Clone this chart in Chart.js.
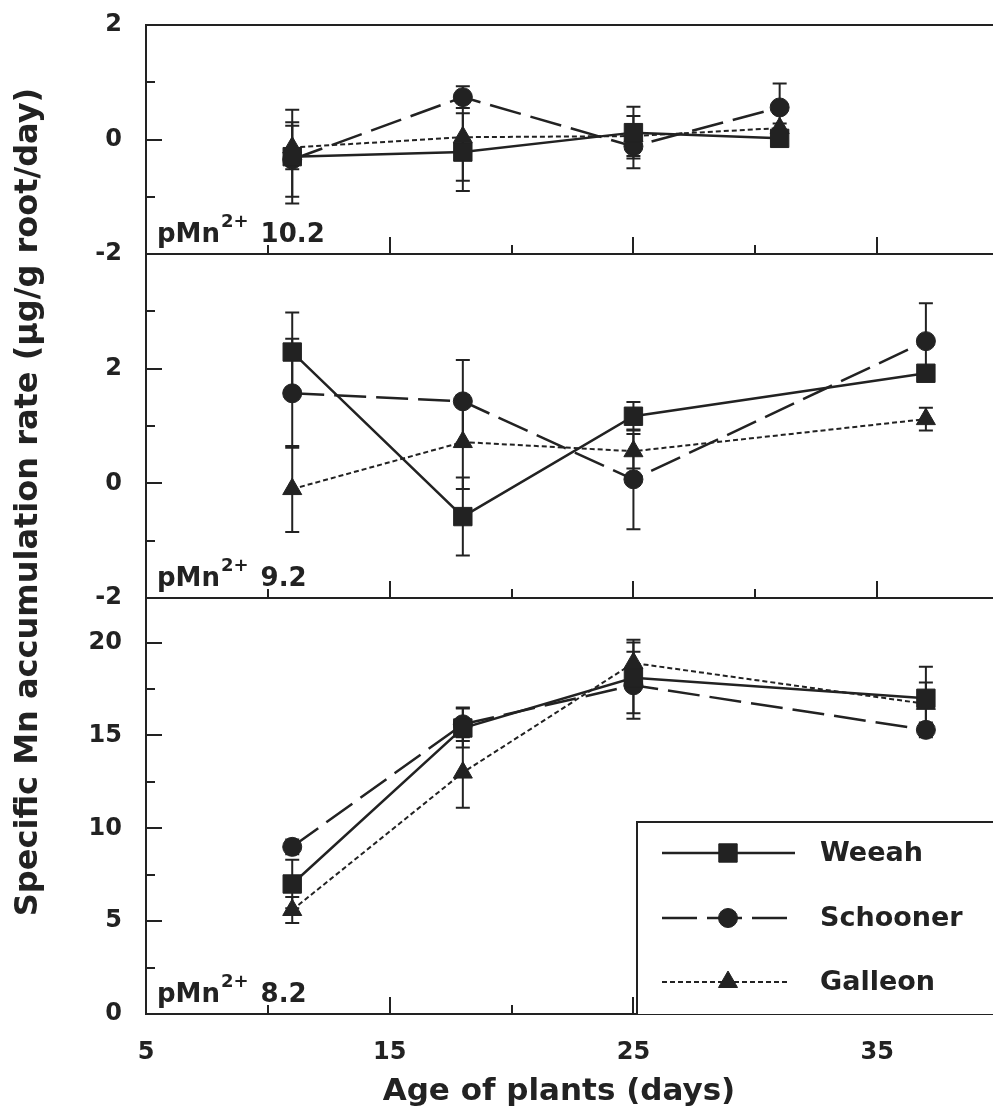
<!DOCTYPE html>
<html>
<head>
<meta charset="utf-8">
<script src="https://cdn.jsdelivr.net/npm/chart.js@4.4.1/dist/chart.umd.min.js"></script>
<style>
  html, body { margin: 0; padding: 0; background: #fff; }
  #wrap { position: relative; width: 993px; height: 1117px; overflow: hidden; }
  canvas { position: absolute; left: 0; }
  .title { position: absolute; font-family: 'DejaVu Sans', sans-serif; font-weight: bold; color: #222; white-space: nowrap; text-align: center; }
  #ytitle { font-size: 32px; line-height: 32px; width: 830px; height: 32px; left: -389px; top: 486px; transform: rotate(-90deg); }
  #xtitle { font-size: 31px; line-height: 31px; left: 0; width: 1118px; top: 1074px; }
</style>
</head>
<body>
<div id="wrap">
  <canvas id="panel1" width="1000" height="264" style="top:0px"></canvas>
  <canvas id="panel2" width="1000" height="364" style="top:244px"></canvas>
  <canvas id="panel3" width="1000" height="529" style="top:588px"></canvas>
  <div class="title" id="ytitle">Specific Mn accumulation rate (µg/g root/day)</div>
  <div class="title" id="xtitle">Age of plants (days)</div>
</div>

<script>
// ---- DATA ----
const xLabels = [5, 15, 25, 35];
const legendNames = ['Weeah', 'Schooner', 'Galleon'];

// pMn2+ 10.2
const days102 = [11, 18, 25, 31];
const weeah102 = [-0.30, -0.22, 0.12, 0.02];
const schooner102 = [-0.35, 0.74, -0.12, 0.56];
const galleon102 = [-0.14, 0.04, 0.06, 0.20];
const weeahErr102 = [0.82, 0.68, 0.45, 0.08];
const schoonerErr102 = [0.65, 0.19, 0.38, 0.42];
const galleonErr102 = [0.38, 0.76, 0.35, 0.08];

// pMn2+ 9.2
const days92 = [11, 18, 25, 37];
const weeah92 = [2.29, -0.58, 1.17, 1.92];
const schooner92 = [1.57, 1.43, 0.07, 2.48];
const galleon92 = [-0.10, 0.72, 0.56, 1.12];
const weeahErr92 = [0.69, 0.68, 0.25, 0.12];
const schoonerErr92 = [0.95, 0.72, 0.87, 0.66];
const galleonErr92 = [0.75, 0.82, 0.30, 0.20];

// pMn2+ 8.2
const days82 = [11, 18, 25, 37];
const weeah82 = [7.0, 15.4, 18.1, 17.0];
const schooner82 = [9.0, 15.6, 17.7, 15.3];
const galleon82 = [5.6, 13.0, 18.9, 16.7];
const weeahErr82 = [1.3, 1.05, 1.9, 1.7];
const schoonerErr82 = [0.4, 0.9, 1.8, 0.4];
const galleonErr82 = [0.7, 1.9, 1.25, 1.15];

const ink = '#222';
const FONT = "'DejaVu Sans', sans-serif";

Chart.defaults.font.family = FONT;
Chart.defaults.color = ink;

// ---- SERIES STYLES ----
const styles = [
  { pointStyle: 'rect', pointRadius: 13, borderWidth: 2.5, borderDash: [] },
  { pointStyle: 'circle', pointRadius: 9.5, borderWidth: 2.5, borderDash: [32, 10] },
  { pointStyle: 'triangle', pointRadius: 11, borderWidth: 2, borderDash: [5, 3] },
];

function series(days, vals, errs, k) {
  const s = styles[k];
  return {
    label: legendNames[k],
    data: days.map((d, i) => ({ x: d, y: vals[i] })),
    errors: errs,
    borderColor: ink,
    backgroundColor: ink,
    borderWidth: s.borderWidth,
    borderDash: s.borderDash,
    pointStyle: s.pointStyle,
    pointRadius: s.pointRadius,
    pointBorderWidth: 1,
    pointBackgroundColor: ink,
    pointBorderColor: ink,
    tension: 0,
  };
}

// ---- PLUGINS ----
const errorBars = {
  id: 'errorBars',
  beforeDatasetsDraw(chart) {
    const { ctx, scales: { x, y } } = chart;
    ctx.save();
    ctx.strokeStyle = ink;
    ctx.lineWidth = 2;
    chart.data.datasets.forEach(ds => {
      if (!ds.errors) return;
      ds.data.forEach((p, i) => {
        const e = ds.errors[i];
        if (!e) return;
        const px = x.getPixelForValue(p.x);
        const top = y.getPixelForValue(p.y + e);
        const bot = y.getPixelForValue(p.y - e);
        ctx.beginPath();
        ctx.moveTo(px, top); ctx.lineTo(px, bot);
        ctx.moveTo(px - 7, top); ctx.lineTo(px + 7, top);
        ctx.moveTo(px - 7, bot); ctx.lineTo(px + 7, bot);
        ctx.stroke();
      });
    });
    ctx.restore();
  }
};

// frame, inward tick marks and panel label
const frame = {
  id: 'frame',
  afterDraw(chart, args, opts) {
    const { ctx, chartArea: a, scales: { x, y } } = chart;
    ctx.save();
    ctx.strokeStyle = ink;
    ctx.lineWidth = 2;
    ctx.strokeRect(a.left, a.top, a.right - a.left, a.bottom - a.top);
    ctx.beginPath();
    y.ticks.forEach(t => {
      const v = t.value;
      if (v <= y.min || v >= y.max) return;
      const len = opts.yMajor(v) ? 16 : 9;
      const py = Math.round(y.getPixelForValue(v));
      ctx.moveTo(a.left, py); ctx.lineTo(a.left + len, py);
    });
    x.ticks.forEach(t => {
      const v = t.value;
      if (v <= x.min || v >= x.max) return;
      const len = (v - 5) % 10 === 0 ? 17 : 9;
      const px = Math.round(x.getPixelForValue(v));
      ctx.moveTo(px, a.bottom); ctx.lineTo(px, a.bottom - len);
    });
    ctx.stroke();

    // pMn2+ label
    const bx = a.left + 11, by = a.bottom - 12;
    ctx.fillStyle = ink;
    ctx.textBaseline = 'alphabetic';
    ctx.textAlign = 'left';
    ctx.font = 'bold 26px ' + FONT;
    ctx.fillText('pMn', bx, by);
    let w = ctx.measureText('pMn').width;
    ctx.font = 'bold 18px ' + FONT;
    ctx.fillText('2+', bx + w + 1, by - 15);
    w += 1 + ctx.measureText('2+').width;
    ctx.font = 'bold 26px ' + FONT;
    ctx.fillText(opts.label, bx + w + 12, by);
    ctx.restore();
  }
};

// legend box inside the bottom panel
const legendBox = {
  id: 'legendBox',
  afterDraw(chart, args, opts) {
    if (!opts.show) return;
    const { ctx, chartArea: a } = chart;
    const left = 637, top = a.top + 224;
    ctx.save();
    ctx.fillStyle = '#fff';
    ctx.fillRect(left, top, chart.width - left, a.bottom - top);
    ctx.strokeStyle = ink;
    ctx.fillStyle = ink;
    ctx.lineWidth = 2;
    ctx.beginPath();
    ctx.moveTo(left, a.bottom); ctx.lineTo(left, top); ctx.lineTo(chart.width, top);
    ctx.stroke();
    const rows = [top + 31, top + 96, top + 160];
    chart.data.datasets.forEach((ds, i) => {
      const yy = rows[i];
      ctx.save();
      ctx.lineWidth = ds.borderWidth;
      ctx.setLineDash(i === 1 ? [35, 10] : ds.borderDash);
      ctx.beginPath();
      ctx.moveTo(662, yy); ctx.lineTo(i === 2 ? 790 : 795, yy);
      ctx.stroke();
      ctx.restore();
      ctx.fillStyle = ink;
      ctx.strokeStyle = ink;
      ctx.lineWidth = 1;
      Chart.helpers.drawPoint(ctx, {
        pointStyle: ds.pointStyle, radius: ds.pointRadius, borderWidth: 1, rotation: 0
      }, 728, yy);
      ctx.font = 'bold 27px ' + FONT;
      ctx.textBaseline = 'middle';
      ctx.textAlign = 'left';
      ctx.fillText(ds.label, 820, yy + 1);
    });
    ctx.restore();
  }
};

// ---- CHARTS ----
function makePanel(id, cfg) {
  return new Chart(document.getElementById(id), {
    type: 'line',
    data: { datasets: cfg.datasets },
    plugins: [errorBars, frame, legendBox],
    options: {
      responsive: false,
      devicePixelRatio: 1,
      animation: false,
      events: [],
      layout: { autoPadding: false, padding: { top: cfg.padTop, bottom: cfg.padBottom, left: 0, right: 1 } },
      plugins: {
        legend: { display: false },
        tooltip: { enabled: false },
        frame: { yMajor: cfg.yMajor, label: cfg.label },
        legendBox: { show: !!cfg.legend },
      },
      scales: {
        x: {
          type: 'linear',
          min: 5, max: 40,
          grid: { display: false, drawTicks: false },
          border: { display: false },
          ticks: {
            display: !!cfg.xLabels,
            stepSize: 5,
            autoSkip: false,
            maxRotation: 0,
            padding: 24,
            color: ink,
            font: { size: 24, weight: 'bold' },
            callback: v => xLabels.includes(v) ? String(v) : '',
          },
          afterFit: s => { s.height = cfg.xHeight; s.paddingLeft = 0; s.paddingRight = 0; },
        },
        y: {
          min: cfg.yMin, max: cfg.yMax,
          grid: { display: false, drawTicks: false },
          border: { display: false },
          ticks: {
            stepSize: cfg.yStep,
            autoSkip: false,
            padding: 24,
            color: ink,
            font: { size: 24, weight: 'bold' },
            callback: v => cfg.yLabel(v) ? String(v) : '',
          },
          afterFit: s => { s.width = 146; s.paddingTop = 0; s.paddingBottom = 0; },
        },
      },
    },
  });
}

makePanel('panel1', {
  datasets: [
    series(days102, weeah102, weeahErr102, 0),
    series(days102, schooner102, schoonerErr102, 1),
    series(days102, galleon102, galleonErr102, 2),
  ],
  padTop: 25, padBottom: 10, xHeight: 0,
  yMin: -2, yMax: 2, yStep: 1,
  yMajor: v => v % 2 === 0,
  yLabel: v => v % 2 === 0,
  label: '10.2',
});

makePanel('panel2', {
  datasets: [
    series(days92, weeah92, weeahErr92, 0),
    series(days92, schooner92, schoonerErr92, 1),
    series(days92, galleon92, galleonErr92, 2),
  ],
  padTop: 10, padBottom: 10, xHeight: 0,
  yMin: -2, yMax: 4, yStep: 1,
  yMajor: v => v % 2 === 0,
  yLabel: v => v % 2 === 0 && v <= 2,
  label: '9.2',
});

makePanel('panel3', {
  datasets: [
    series(days82, weeah82, weeahErr82, 0),
    series(days82, schooner82, schoonerErr82, 1),
    series(days82, galleon82, galleonErr82, 2),
  ],
  padTop: 10, padBottom: 0, xHeight: 103, xLabels: true,
  yMin: 0, yMax: 22.4, yStep: 2.5,
  yMajor: v => v % 5 === 0,
  yLabel: v => v % 5 === 0,
  label: '8.2',
  legend: true,
});
</script>
</body>
</html>
